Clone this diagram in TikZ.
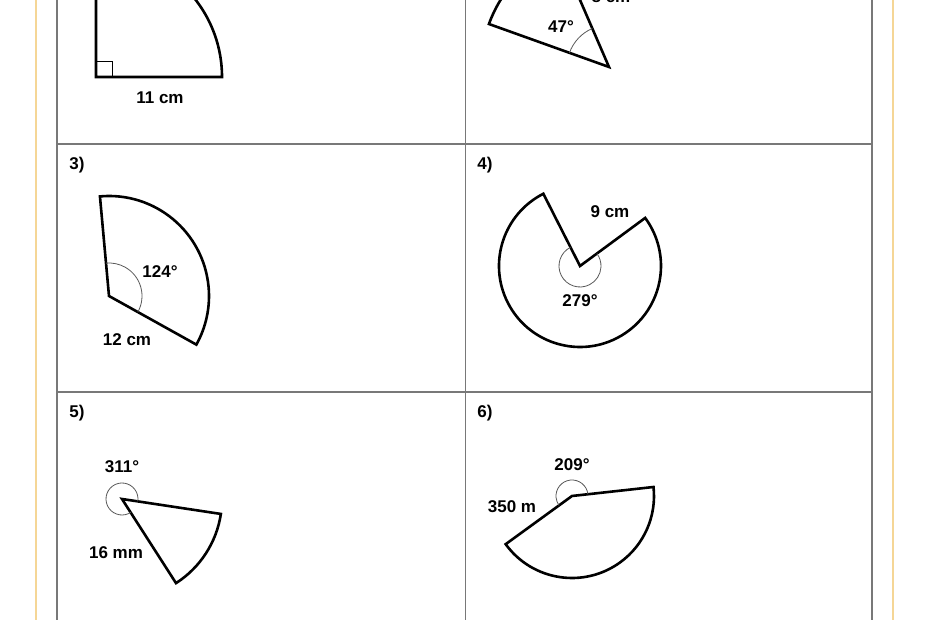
\documentclass[tikz,border=0pt]{standalone}
\usepackage{fontspec}
\setmainfont{Liberation Sans}
\definecolor{paleorange}{RGB}{245,214,150}
\definecolor{gridgray}{RGB}{120,120,120}
\definecolor{markgray}{RGB}{90,90,90}
\begin{document}
\begin{tikzpicture}[x=1pt,y=1pt,
  sector/.style={draw=black, line width=2.6pt, line join=miter},
  angmark/.style={draw=markgray, line width=0.8pt},
  gridline/.style={draw=gridgray, line width=1.3pt},
  edgeline/.style={draw=paleorange, line width=2.4pt},
  lbl/.style={font=\bfseries\fontsize{17}{20}\selectfont, inner sep=0pt, text=black}]
\useasboundingbox (0,0) rectangle (930,620);
\clip (0,0) rectangle (930,620);
\fill[white] (0,0) rectangle (930,620);
% page edges
\draw[edgeline] (36,0) -- (36,620);
\draw[edgeline] (893,0) -- (893,620);
% grid
\coordinate (gTL) at (57,620);
\coordinate (gBL) at (57,0);
\coordinate (gTM) at (465.5,620);
\coordinate (gBM) at (465.5,0);
\coordinate (gTR) at (872,620);
\coordinate (gBR) at (872,0);
\coordinate (h1L) at (57,476);
\coordinate (h1R) at (872,476);
\coordinate (h2L) at (57,228);
\coordinate (h2R) at (872,228);
\draw[gridline] (gTL) -- (gBL);
\draw[gridline] (gTM) -- (gBM);
\draw[gridline] (gTR) -- (gBR);
\draw[gridline] (h1L) -- (h1R);
\draw[gridline] (h2L) -- (h2R);
% figure 1
\coordinate (c1) at (96,543);
\draw[sector] (96,669) -- (c1) -- (222,543) arc[start angle=0, end angle=90, radius=126] -- cycle;
\draw[draw=black, line width=0.8pt] (96,559) -| (112,543);
\node[lbl] (l1) at (160,522) {11 cm};
% figure 2
\coordinate (c2) at (609,553);
\draw[sector] (c2) -- ++(160.3:127.5) arc[start angle=160.3, end angle=113.4, radius=127.5] -- cycle;
\draw[angmark] (c2) ++(113.4:42) arc[start angle=113.4, end angle=160.3, radius=42];
\node[lbl] (l2a) at (561,593) {47°};
\node[lbl] (l2b) at (611,623) {8 cm};
% figure 3
\node[lbl] (n3) at (77,455) {3)};
\coordinate (c3) at (109,324);
\draw[sector] (c3) -- ++(95.2:100) arc[start angle=95.2, end angle=-29.1, radius=100] -- cycle;
\draw[angmark] (c3) ++(-29.1:33) arc[start angle=-29.1, end angle=95.2, radius=33];
\node[lbl] (l3a) at (160,348) {124°};
\node[lbl] (l3b) at (127,280) {12 cm};
% figure 4
\node[lbl] (n4) at (485,455) {4)};
\coordinate (c4) at (580,354);
\draw[sector] (c4) -- ++(116.9:81) arc[start angle=116.9, end angle=396.4, radius=81] -- cycle;
\draw[angmark] (c4) ++(116.9:21) arc[start angle=116.9, end angle=396.4, radius=21];
\node[lbl] (l4a) at (610,408) {9 cm};
\node[lbl] (l4b) at (580,319) {279°};
% figure 5
\node[lbl] (n5) at (77,207) {5)};
\coordinate (c5) at (122,121);
\draw[sector] (c5) -- ++(-57.3:100) arc[start angle=-57.3, end angle=-8.6, radius=100] -- cycle;
\draw[angmark] (c5) ++(-8.6:16) arc[start angle=-8.6, end angle=302.7, radius=16];
\node[lbl] (l5a) at (122,153) {311°};
\node[lbl] (l5b) at (116,67) {16 mm};
% figure 6
\node[lbl] (n6) at (485,207) {6)};
\coordinate (c6) at (572,124);
\draw[sector] (c6) -- ++(216:82) arc[start angle=216, end angle=366.3, radius=82] -- cycle;
\draw[angmark] (c6) ++(6.3:16) arc[start angle=6.3, end angle=216, radius=16];
\node[lbl] (l6a) at (572,155) {209°};
\node[lbl] (l6b) at (512,113) {350 m};
\end{tikzpicture}
\end{document}
